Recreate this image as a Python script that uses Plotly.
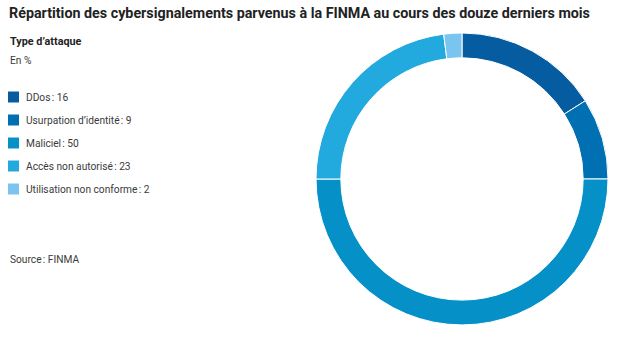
import plotly.graph_objects as go

categories = ["DDos", "Usurpation d\u2019identité", "Maliciel", "Accès non autorisé", "Utilisation non conforme"]
values = [16, 9, 50, 23, 2]
colors = ["#055CA0", "#0070B3", "#0690C8", "#22A9DD", "#79C5EF"]

W, H = 619, 338
FONT = "Roboto"

fig = go.Figure()
fig.add_trace(go.Pie(
    labels=categories, values=values, sort=False, direction="clockwise", rotation=0,
    hole=0.83, marker=dict(colors=colors, line=dict(color="white", width=1)),
    textinfo="none", hoverinfo="label+value", showlegend=False,
    domain=dict(x=[316 / W, 608 / W], y=[1 - 325 / H, 1 - 33 / H]),
))

shapes = []
annotations = []
y0 = 97
step = 23
for i, (c, v, col) in enumerate(zip(categories, values, colors)):
    yc = y0 + i * step
    shapes.append(dict(type="rect", xref="paper", yref="paper",
                       x0=8 / W, x1=19 / W, y0=1 - (yc + 5.5) / H, y1=1 - (yc - 5.5) / H,
                       fillcolor=col, line=dict(width=0)))
    annotations.append(dict(text=f"{c}\u202f: {v}", x=24 / W, y=1 - yc / H, xref="paper", yref="paper",
                            xanchor="left", yanchor="middle", showarrow=False,
                            font=dict(family=FONT, size=10.2, color="#3a3a3a")))

annotations += [
    dict(text="<b>Répartition des cybersignalements parvenus à la FINMA au cours des douze derniers mois</b>",
         x=7 / W, y=1 - 13 / H, xref="paper", yref="paper", xanchor="left", yanchor="middle",
         showarrow=False, font=dict(family=FONT, size=14.3, color="#222")),
    dict(text="<b>Type d\u2019attaque</b>", x=8 / W, y=1 - 42 / H, xref="paper", yref="paper",
         xanchor="left", yanchor="middle", showarrow=False, font=dict(family=FONT, size=10.8, color="#222")),
    dict(text="En %", x=8 / W, y=1 - 60 / H, xref="paper", yref="paper",
         xanchor="left", yanchor="middle", showarrow=False, font=dict(family=FONT, size=10.2, color="#3a3a3a")),
    dict(text="Source\u202f: FINMA", x=8 / W, y=1 - 259 / H, xref="paper", yref="paper",
         xanchor="left", yanchor="middle", showarrow=False, font=dict(family=FONT, size=10.2, color="#3a3a3a")),
]

fig.update_layout(width=W, height=H, margin=dict(l=0, r=0, t=0, b=0),
                  paper_bgcolor="white", plot_bgcolor="white",
                  shapes=shapes, annotations=annotations)
fig.write_html("out.html")
